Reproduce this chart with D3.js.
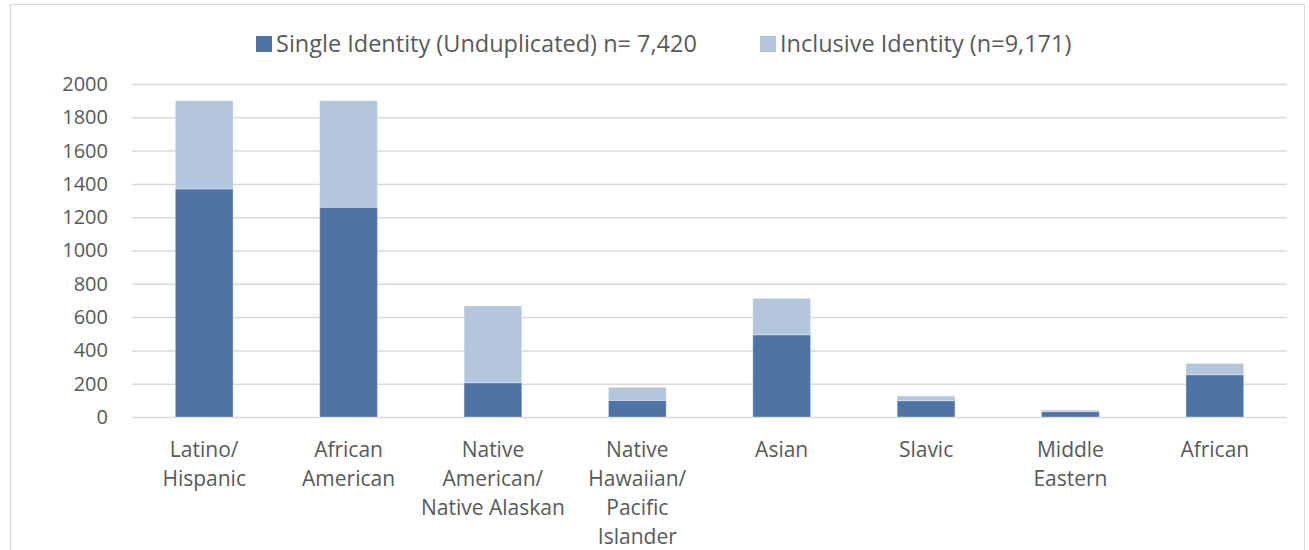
<!DOCTYPE html>
<html>
<head>
<meta charset="utf-8">
<script src="https://cdn.jsdelivr.net/npm/d3@7"></script>
<style>
  body { margin: 0; background: #fff; }
  svg { display: block; font-family: "Open Sans", sans-serif; }
</style>
</head>
<body>
<svg id="viz"></svg>
<script>
const categories = ["Latino/Hispanic", "African American", "Native American/Native Alaskan",
    "Native Hawaiian/Pacific Islander", "Asian", "Slavic", "Middle Eastern", "African"]
const categoryLines = [["Latino/", "Hispanic"], ["African", "American"], ["Native", "American/", "Native Alaskan"],
    ["Native", "Hawaiian/", "Pacific", "Islander"], ["Asian"], ["Slavic"], ["Middle", "Eastern"], ["African"]]
// dark segment (bottom)
const singleIdentity = [1370, 1260, 206, 100, 494, 98, 32, 254]
// light segment stacked on top
const inclusiveIdentity = [530, 640, 461, 78, 219, 28, 10, 68]
const seriesNames = ["Single Identity (Unduplicated) n= 7,420", "Inclusive Identity (n=9,171)"]
const yTicks = [0, 200, 400, 600, 800, 1000, 1200, 1400, 1600, 1800, 2000]

const width = 1309,
    height = 550
const margin = { top: 84, right: 22, bottom: 133, left: 132 }
const colors = ["#4E73A4", "#B4C6DC"]

const data = categories.map((c, i) => ({ cat: c, single: singleIdentity[i], inclusive: inclusiveIdentity[i] }))
const stacked = d3.stack().keys(["single", "inclusive"])(data)

const x = d3.scaleBand()
    .domain(categories)
    .range([margin.left, width - margin.right])
    .paddingInner(0.6)
    .paddingOuter(0.3)
const y = d3.scaleLinear()
    .domain([0, 2000])
    .range([height - margin.bottom, margin.top])

const svg = d3.select("#viz")
    .attr("width", width)
    .attr("height", height)

// chart frame
svg.append("rect")
    .attr("x", 10.5).attr("y", 4.5)
    .attr("width", 1294).attr("height", 560)
    .attr("fill", "none")
    .attr("stroke", "#D9D9D9")

// gridlines + y labels
const yAxis = g => g
    .attr("transform", `translate(${margin.left},0)`)
    .call(d3.axisLeft(y).tickValues(yTicks).tickFormat(d3.format("d"))
        .tickSize(-(width - margin.left - margin.right)).tickPadding(24))
    .call(g => g.select(".domain").remove())
    .call(g => g.selectAll(".tick line").attr("stroke", "#D9D9D9").attr("stroke-width", 1.5))
    .call(g => g.selectAll(".tick text").attr("fill", "#595959").attr("font-size", 20)
        .attr("font-family", "'Open Sans', sans-serif"))
svg.append("g").attr("class", "yaxis").call(yAxis)

// bars
svg.append("g").attr("class", "bars")
    .selectAll("g")
    .data(stacked)
    .join("g")
    .attr("fill", (d, i) => colors[i])
    .selectAll("rect")
    .data(d => d)
    .join("rect")
    .attr("x", d => x(d.data.cat))
    .attr("y", d => y(d[1]))
    .attr("width", x.bandwidth())
    .attr("height", d => y(d[0]) - y(d[1]))
    .attr("stroke", "#fff")
    .attr("stroke-opacity", 0.35)
    .attr("stroke-width", 1)

// x labels
const xLabels = svg.append("g").attr("class", "xaxis")
    .selectAll("text")
    .data(categories)
    .join("text")
    .attr("x", d => x(d) + x.bandwidth() / 2)
    .attr("y", 457)
    .attr("text-anchor", "middle")
    .attr("fill", "#595959")
    .attr("font-size", 21)
xLabels.selectAll("tspan")
    .data((d, i) => categoryLines[i])
    .join("tspan")
    .attr("x", function () { return this.parentNode.getAttribute("x") })
    .attr("dy", (d, i) => i === 0 ? 0 : 29)
    .text(d => d)

// legend
const legendX = [256, 760]
const legend = svg.append("g").attr("class", "legend")
    .selectAll("g")
    .data(seriesNames)
    .join("g")
    .attr("transform", (d, i) => `translate(${legendX[i]},36)`)
legend.append("rect")
    .attr("width", 16).attr("height", 16)
    .attr("fill", (d, i) => colors[i])
legend.append("text")
    .attr("x", 20).attr("y", 16)
    .attr("fill", "#595959")
    .attr("font-size", 23.5)
    .text(d => d)
</script>
</body>
</html>
